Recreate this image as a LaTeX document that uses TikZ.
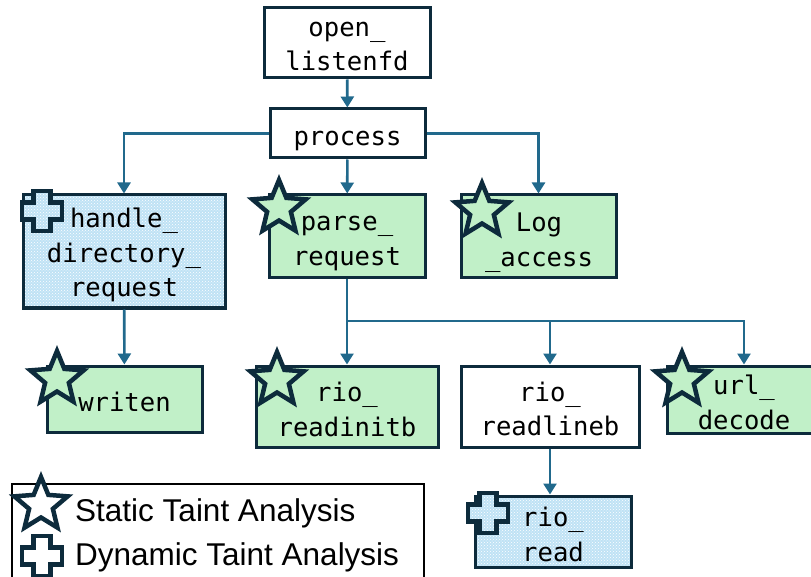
\documentclass[tikz,border=0pt]{standalone}
\usepackage{fontspec}
\setmonofont{DejaVu Sans Mono}
\newfontfamily\legendfont{Liberation Sans}
\usetikzlibrary{arrows.meta,patterns}

\definecolor{navy}{HTML}{0D2B3C}
\definecolor{linkblue}{HTML}{21698C}
\definecolor{statgreen}{HTML}{C1F0C8}
\definecolor{dynblue}{HTML}{BFE2F5}

\tikzset{
  box/.style={draw=navy, line width=3pt, rectangle, inner sep=0pt},
  plainbox/.style={box, fill=white},
  statbox/.style={box, fill=statgreen},
  dynbox/.style={box, preaction={fill=dynblue}, pattern=crosshatch dots, pattern color=white},
  boxtext/.style={inner sep=0pt, align=center,
    font=\ttfamily\fontsize{25.6}{34.5}\selectfont},
  conn/.style={draw=linkblue, line width=2.6pt,
    -{Triangle[width=13pt,length=11pt]}},
  iconline/.style={draw=navy, line width=4.5pt, line join=miter},
  legendtext/.style={anchor=base west, inner sep=0pt,
    font=\legendfont\fontsize{31.5}{36}\selectfont},
}

% five-pointed star outline, centre #1, fill #2
\newcommand\starmark[2]{%
  \draw[iconline, fill=#2, shift={(#1)}]
    (-90:28) -- (-54:12.5) -- (-18:28) -- (18:12.5) -- (54:28) --
    (90:12.5) -- (126:28) -- (162:12.5) -- (198:28) -- (234:12.5) -- cycle;}
% plus outline, centre #1, extra path options #2
\newcommand\plusmark[2]{%
  \draw[iconline, #2, shift={(#1)}]
    (-8.5,-20) -- (8.5,-20) -- (8.5,-8.5) -- (20,-8.5) -- (20,8.5) --
    (8.5,8.5) -- (8.5,20) -- (-8.5,20) -- (-8.5,8.5) -- (-20,8.5) --
    (-20,-8.5) -- (-8.5,-8.5) -- cycle;}

\begin{document}
\begin{tikzpicture}[x=1pt, y=-1pt]
\useasboundingbox (0,0) rectangle (811,577);

% call-graph boxes
\node[plainbox, minimum width=166pt, minimum height=70pt] (open) at (347,43) {};
\node[plainbox, minimum width=155pt, minimum height=49pt] (process) at (347.5,133.5) {};
\node[dynbox, minimum width=202pt, minimum height=113pt] (handle) at (124,251.5) {};
\node[statbox, minimum width=156pt, minimum height=83pt] (parse) at (347,236.5) {};
\node[statbox, minimum width=155pt, minimum height=83pt] (logacc) at (538.5,236.5) {};
\node[statbox, minimum width=155pt, minimum height=66pt] (writen) at (124.5,399) {};
\node[statbox, minimum width=182pt, minimum height=81pt] (initb) at (347,406.5) {};
\node[plainbox, minimum width=178pt, minimum height=81pt] (lineb) at (550,406.5) {};
\node[statbox, minimum width=154pt, minimum height=67pt] (urldec) at (744,399.5) {};
\node[dynbox, minimum width=156pt, minimum height=71pt] (rread) at (553,531.5) {};

% function names
\node[boxtext] (openT) at (347,46.5) {open\_\\listenfd};
\node[boxtext] (processT) at (347.5,140.5) {process};
\node[boxtext] (handleT) at (124,255) {handle\_\\directory\_\\request};
\node[boxtext] (parseT) at (347,243.5) {parse\_\\request};
\node[boxtext] (logaccT) at (539,242.5) {Log\\\_access};
\node[boxtext] (writenT) at (124.5,401.5) {writen};
\node[boxtext] (initbT) at (347,409.5) {rio\_\\readinitb};
\node[boxtext] (linebT) at (550,409) {rio\_\\readlineb};
\node[boxtext] (urldecT) at (744,402.5) {url\_\\decode};
\node[boxtext] (rreadT) at (553,534.5) {rio\_\\read};

% connectors
\coordinate (split) at (347,321);
\draw[conn] (open) -- (process);
\draw[conn] (process.west) -| (handle.north);
\draw[conn] (process.east) -| (logacc.north);
\draw[conn] (process) -- (parse);
\draw[conn] (handle) -- (writen);
\draw[conn] (parse) -- (initb);
\draw[conn] (split) -| (lineb.north);
\draw[conn] (split) -| (urldec.north);
\draw[conn] (lineb.south) -- (lineb.south |- rread.north);

% analysis markers
\starmark{279,208}{statgreen}
\starmark{482,211}{statgreen}
\starmark{57,379}{statgreen}
\starmark{277,380}{statgreen}
\starmark{682,380}{statgreen}
\plusmark{42,211}{preaction={fill=dynblue}, pattern=crosshatch dots, pattern color=white}
\plusmark{488,513}{preaction={fill=dynblue}, pattern=crosshatch dots, pattern color=white}

% legend
\draw[black, line width=1.4pt] (12,600) |- (424,484) -- (424,600);
\starmark{41,505}{white}
\plusmark{42,556}{fill=white}
\node[legendtext] (lstat) at (75,521) {Static Taint Analysis};
\node[legendtext] (ldyn) at (75,565) {Dynamic Taint Analysis};
\end{tikzpicture}
\end{document}
